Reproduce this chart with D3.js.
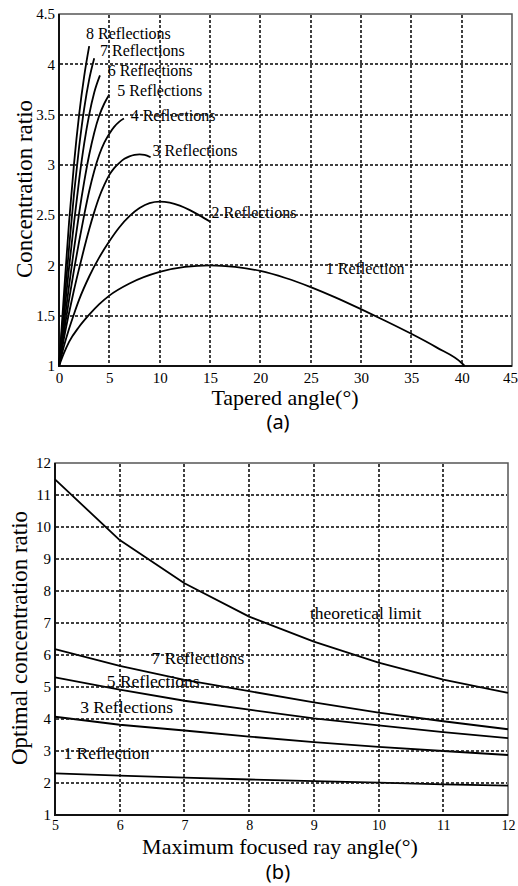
<!DOCTYPE html>
<html><head><meta charset="utf-8">
<script src="https://cdn.jsdelivr.net/npm/d3@7"></script>
<style>
body{margin:0;background:#fff;}
svg{display:block;}
</style></head>
<body>
<svg id="c" width="518" height="886"></svg>
<script>
// ---------- Chart (a) data ----------
const aXTicks = [0,5,10,15,20,25,30,35,40,45];
const aYTicks = [1,1.5,2,2.5,3,3.5,4,4.5];
const aSeriesNames = ["1 Reflection","2 Reflections","3 Reflections","4 Reflections","5 Reflections","6 Reflections","7 Reflections","8 Reflections"];
const refl1X = [0,0.5,1,2,3,4,5,7,10,12.5,15,17.5,20,22.5,25,27.5,30,32.5,35,37.5,40,40.3];
const refl1Y = [1,1.13,1.24,1.39,1.51,1.615,1.70,1.82,1.935,1.985,2.0,1.985,1.945,1.875,1.785,1.68,1.565,1.445,1.32,1.185,1.03,1.0];
const refl2X = [0,0.5,1,1.5,2,3,4,5,6,7,8,9,10,11,12,13,14,15];
const refl2Y = [1,1.2,1.37,1.52,1.66,1.89,2.08,2.24,2.38,2.49,2.57,2.62,2.635,2.625,2.595,2.55,2.495,2.435];
const refl3X = [0,0.5,1,1.5,2,2.5,3,3.5,4,4.5,5,5.5,6,6.5,7,7.5,8,8.5,9.1];
const refl3Y = [1,1.28,1.53,1.76,1.97,2.17,2.36,2.53,2.68,2.8,2.9,2.97,3.02,3.06,3.085,3.1,3.105,3.1,3.075];
const refl4X = [0,0.5,1,1.5,2,2.5,3,3.5,4,4.5,5,5.5,6,6.45];
const refl4Y = [1,1.34,1.66,1.96,2.24,2.5,2.74,2.94,3.1,3.22,3.31,3.38,3.43,3.46];
const refl5X = [0,0.5,1,1.5,2,2.5,3,3.5,4,4.5,5];
const refl5Y = [1,1.41,1.8,2.17,2.52,2.83,3.1,3.32,3.49,3.61,3.7];
const refl6X = [0,0.5,1,1.5,2,2.5,3,3.5,4.07];
const refl6Y = [1,1.5,1.98,2.43,2.85,3.21,3.5,3.72,3.89];
const refl7X = [0,0.5,1,1.5,2,2.5,3,3.5];
const refl7Y = [1,1.6,2.18,2.72,3.18,3.56,3.85,4.06];
const refl8X = [0,0.5,1,1.5,2,2.5,3];
const refl8Y = [1,1.73,2.43,3.02,3.5,3.88,4.18];

// ---------- Chart (b) data ----------
const bX = [5,6,7,8,9,10,11,12];
const bXTicks = [5,6,7,8,9,10,11,12];
const bYTicks = [1,2,3,4,5,6,7,8,9,10,11,12];
const bSeriesNames = ["theoretical limit","7 Reflections","5 Reflections","3 Reflections","1 Reflection"];
const theoLimit = [11.49,9.59,8.24,7.2,6.42,5.76,5.23,4.82];
const b7Refl = [6.18,5.66,5.22,4.87,4.52,4.2,3.93,3.68];
const b5Refl = [5.3,4.92,4.57,4.29,4.02,3.8,3.59,3.4];
const b3Refl = [4.07,3.82,3.64,3.45,3.28,3.13,3.0,2.875];
const b1Refl = [2.3,2.23,2.17,2.11,2.06,2.01,1.96,1.92];

const svg = d3.select("#c");
const serif = "'Liberation Serif','Times New Roman',serif";
const sans = "'Noto Sans','Open Sans',sans-serif";

function drawPanel(opt){
  const g = svg.append("g");
  const x = d3.scaleLinear().domain(opt.xDomain).range([opt.left, opt.right]);
  const y = d3.scaleLinear().domain(opt.yDomain).range([opt.bottom, opt.top]);
  const xAxis = d3.axisBottom(x).tickValues(opt.xTicks).tickSize(0).tickPadding(opt.xPad).tickFormat(d=>d);
  const yAxis = d3.axisLeft(y).tickValues(opt.yTicks).tickSize(0).tickPadding(opt.yPad).tickFormat(d=>d);
  const xa = g.append("g").attr("transform",`translate(0,${opt.bottom})`).call(xAxis);
  const ya = g.append("g").attr("transform",`translate(${opt.left},0)`).call(yAxis);
  [xa,ya].forEach(a=>{a.select(".domain").remove();
    a.selectAll("text").attr("font-family",serif).attr("fill","#000");});
  xa.selectAll("text").attr("font-size",opt.xTickSize);
  ya.selectAll("text").attr("font-size",opt.yTickSize);
  if (opt.lastXShift) xa.selectAll(".tick").filter((d,i,n)=>i===n.length-1).select("text").attr("dx",opt.lastXShift);
  g.append("rect").attr("x",opt.left).attr("y",opt.top)
    .attr("width",opt.right-opt.left).attr("height",opt.bottom-opt.top)
    .attr("fill","none").attr("stroke","#555").attr("stroke-width",1.5);
  g.append("path").attr("d",`M${opt.left},${opt.top}V${opt.bottom}H${opt.right}`)
    .attr("fill","none").attr("stroke","#111").attr("stroke-width",2);
  const line = d3.line().x(d=>x(d[0])).y(d=>y(d[1])).curve(opt.curve);
  opt.series.forEach(s=>{
    g.append("path").datum(s).attr("d",line).attr("fill","none")
      .attr("stroke","#000").attr("stroke-width",1.8).attr("stroke-linejoin","round");
  });
  opt.labels.forEach(l=>{
    g.append("text").attr("x",x(l.x)).attr("y",y(l.y)).attr("dy","0.35em")
      .attr("font-family",serif).attr("font-size",opt.labelSize).attr("fill","#000").text(l.t);
  });
  return {x,y,opt};
}

// dotted grid, drawn on top of everything at the end
function drawGrid(p){
  const {x,y,opt} = p;
  const gg = svg.append("g").attr("class","grid-"+opt.name);
  const dash = 3, step = 5, w = 1.6;
  const rects = [];
  opt.xTicks.slice(1,-1).forEach(t=>{
    const xx = Math.round(x(t)) - w/2;
    for (let yy = opt.top + 1; yy < opt.bottom - 1; yy += step)
      rects.push([xx, yy, w, Math.min(dash, opt.bottom - 1 - yy)]);
  });
  opt.yTicks.slice(1,-1).forEach(t=>{
    const yy = Math.round(y(t)) - w/2;
    for (let xx = opt.left + 1; xx < opt.right - 1; xx += step)
      rects.push([xx, yy, Math.min(dash, opt.right - 1 - xx), w]);
  });
  gg.selectAll("rect").data(rects).enter().append("rect")
    .attr("x",d=>d[0]).attr("y",d=>d[1]).attr("width",d=>d[2]).attr("height",d=>d[3])
    .style("fill","#111");
}

const zip = (xs,ys)=>xs.map((v,i)=>[v,ys[i]]);

// Panel (a)
const pA = drawPanel({
  name:"a",
  left:59,right:512,top:14,bottom:366,
  xDomain:[0,45], yDomain:[1,4.5], xTicks:aXTicks, yTicks:aYTicks,
  xPad:6, yPad:4, xTickSize:15, yTickSize:15, labelSize:16, lastXShift:-2,
  curve:d3.curveMonotoneX,
  series:[zip(refl1X,refl1Y),zip(refl2X,refl2Y),zip(refl3X,refl3Y),zip(refl4X,refl4Y),
          zip(refl5X,refl5Y),zip(refl6X,refl6Y),zip(refl7X,refl7Y),zip(refl8X,refl8Y)],
  labels:[
    {t:aSeriesNames[7],x:2.68,y:4.31},
    {t:aSeriesNames[6],x:4.07,y:4.135},
    {t:aSeriesNames[5],x:4.84,y:3.94},
    {t:aSeriesNames[4],x:5.79,y:3.74},
    {t:aSeriesNames[3],x:7.12,y:3.49},
    {t:aSeriesNames[2],x:9.3,y:3.14},
    {t:aSeriesNames[1],x:15.16,y:2.53},
    {t:aSeriesNames[0],x:26.5,y:1.97}
  ]
});
svg.append("text").attr("x",285).attr("y",405).attr("text-anchor","middle")
  .attr("font-family",serif).attr("font-size",22).text("Tapered angle(°)");
svg.append("text").attr("transform","translate(32,189) rotate(-90)").attr("text-anchor","middle")
  .attr("font-family",serif).attr("font-size",23).text("Concentration ratio");
svg.append("text").attr("x",278).attr("y",429).attr("text-anchor","middle")
  .attr("font-family",sans).attr("font-size",20).text("(a)");

// Panel (b)
const pB = drawPanel({
  name:"b",
  left:55,right:508,top:463,bottom:815,
  xDomain:[5,12], yDomain:[1,12], xTicks:bXTicks, yTicks:bYTicks,
  xPad:5, yPad:4, xTickSize:14, yTickSize:15, labelSize:17.5,
  curve:d3.curveLinear,
  series:[zip(bX,theoLimit),zip(bX,b7Refl),zip(bX,b5Refl),zip(bX,b3Refl),zip(bX,b1Refl)],
  labels:[
    {t:bSeriesNames[0],x:8.94,y:7.31},
    {t:bSeriesNames[1],x:6.49,y:5.91},
    {t:bSeriesNames[2],x:5.8,y:5.2},
    {t:bSeriesNames[3],x:5.39,y:4.38},
    {t:bSeriesNames[4],x:5.13,y:2.94}
  ]
});
svg.append("text").attr("x",280).attr("y",854).attr("text-anchor","middle")
  .attr("font-family",serif).attr("font-size",22).text("Maximum focused ray angle(°)");
svg.append("text").attr("transform","translate(27,638) rotate(-90)").attr("text-anchor","middle")
  .attr("font-family",serif).attr("font-size",23).text("Optimal concentration ratio");
svg.append("text").attr("x",278).attr("y",879).attr("text-anchor","middle")
  .attr("font-family",sans).attr("font-size",20).text("(b)");

drawGrid(pA);
drawGrid(pB);
</script>
</body></html>
